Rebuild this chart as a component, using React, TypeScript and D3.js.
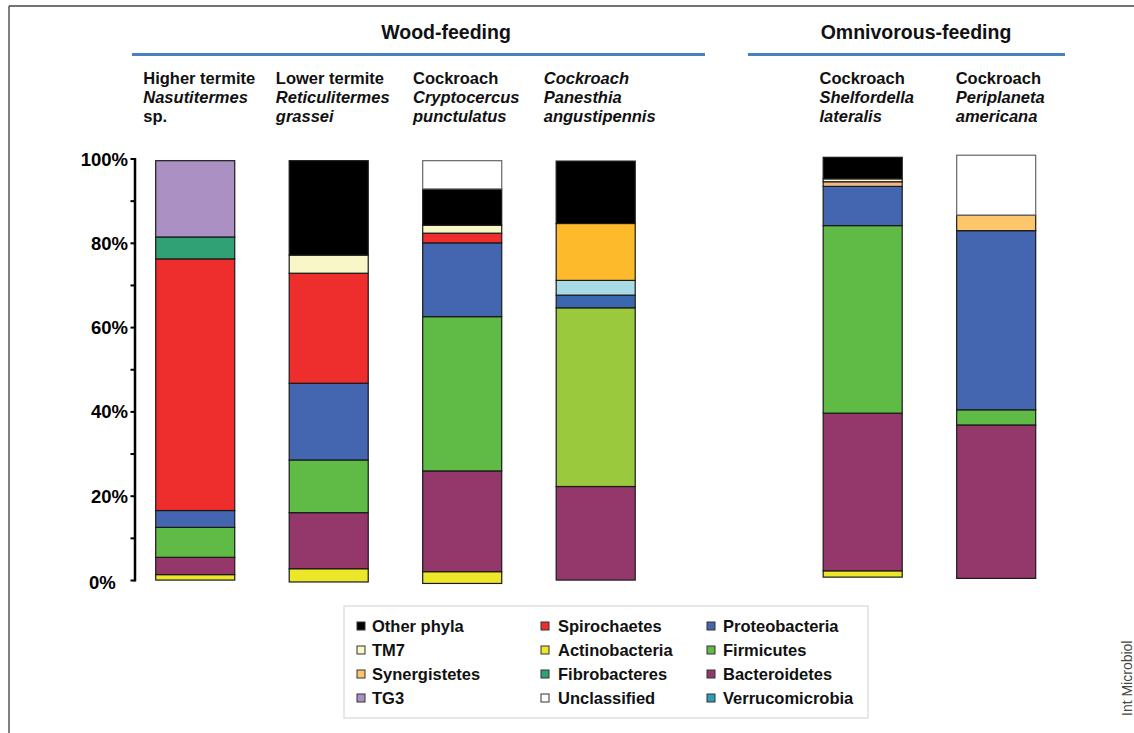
import React from 'react';
import * as d3 from 'd3';

// ---------- data ----------
const species = ['Nasutitermes', 'Reticulitermes', 'Cryptocercus', 'Panesthia', 'Shelfordella', 'Periplaneta'];
const woodSpecies = ['Nasutitermes', 'Reticulitermes', 'Cryptocercus', 'Panesthia'];
const omniSpecies = ['Shelfordella', 'Periplaneta'];
const groupTitles = ['Wood-feeding', 'Omnivorous-feeding'];

// [text, italic]
const speciesLabels: [string, boolean][][] = [
  [['Higher termite', false], ['Nasutitermes', true], ['sp.', false]],
  [['Lower termite', false], ['Reticulitermes', true], ['grassei', true]],
  [['Cockroach', false], ['Cryptocercus', true], ['punctulatus', true]],
  [['Cockroach', true], ['Panesthia', true], ['angustipennis', true]],
  [['Cockroach', false], ['Shelfordella', true], ['lateralis', true]],
  [['Cockroach', false], ['Periplaneta', true], ['americana', true]],
];

// stacking order, bottom to top
const phyla = [
  'Actinobacteria', 'Bacteroidetes', 'Firmicutes', 'Proteobacteria', 'Verrucomicrobia',
  'Spirochaetes', 'Synergistetes', 'TM7', 'Fibrobacteres', 'TG3', 'Other phyla', 'Unclassified',
];

// bar start (%) as drawn in the figure
const baselines = [0.1, -0.35, -0.7, 0.1, 0.8, 0.5];
const actinobacteria = [1.3, 3.15, 2.8, 0, 1.5, 0];
const bacteroidetes = [4.1, 13.3, 23.9, 22.2, 37.4, 36.4];
const firmicutes = [7.1, 12.5, 36.6, 42.4, 44.5, 3.6];
const proteobacteria = [4.0, 18.2, 17.5, 3.0, 9.3, 42.5];
const verrucomicrobia = [0, 0, 0, 3.5, 0, 0];
const spirochaetes = [59.7, 26.1, 2.3, 0, 0, 0];
const synergistetes = [0, 0, 0, 13.5, 1.1, 3.7];
const tm7 = [0, 4.3, 1.9, 0, 0.7, 0];
const fibrobacteres = [5.2, 0, 0, 0, 0, 0];
const tg3 = [18.1, 0, 0, 0, 0, 0];
const otherPhyla = [0, 22.4, 8.6, 14.8, 5.1, 0];
const unclassified = [0, 0, 6.7, 0, 0, 14.2];

const seriesValues: Record<string, number[]> = {
  Actinobacteria: actinobacteria,
  Bacteroidetes: bacteroidetes,
  Firmicutes: firmicutes,
  Proteobacteria: proteobacteria,
  Verrucomicrobia: verrucomicrobia,
  Spirochaetes: spirochaetes,
  Synergistetes: synergistetes,
  TM7: tm7,
  Fibrobacteres: fibrobacteres,
  TG3: tg3,
  'Other phyla': otherPhyla,
  Unclassified: unclassified,
};

const yTicks = [0, 20, 40, 60, 80, 100];
const yMinorTicks = [10, 30, 50, 70, 90];

const legendColumns = [
  ['Other phyla', 'TM7', 'Synergistetes', 'TG3'],
  ['Spirochaetes', 'Actinobacteria', 'Fibrobacteres', 'Unclassified'],
  ['Proteobacteria', 'Firmicutes', 'Bacteroidetes', 'Verrucomicrobia'],
];

const sourceNote = 'Int Microbiol';

// ---------- styles ----------
const colors: Record<string, string> = {
  'Other phyla': '#000000',
  TM7: '#f9f6c8',
  Synergistetes: '#fec66b',
  TG3: '#ab90c4',
  Spirochaetes: '#ee2d2d',
  Actinobacteria: '#ede72a',
  Fibrobacteres: '#30a174',
  Unclassified: '#ffffff',
  Proteobacteria: '#4466b0',
  Firmicutes: '#5fbb46',
  Bacteroidetes: '#94386c',
  Verrucomicrobia: '#2a9fb6',
};
const colorOverrides: Record<string, Record<string, string>> = {
  Panesthia: { Synergistetes: '#fdbb2c', Verrucomicrobia: '#a8dbe6', Proteobacteria: '#3a68b0', Firmicutes: '#9bc93d' },
  Shelfordella: { Synergistetes: '#f6b985' },
};

const FONT = '"Liberation Sans", Arial, Helvetica, sans-serif';
const W = 1134;
const H = 733;

let measureCtx: CanvasRenderingContext2D | null = null;
function measure(text: string, italic: boolean, size: number): number {
  if (!measureCtx) {
    const c = document.createElement('canvas');
    measureCtx = c.getContext('2d');
  }
  if (!measureCtx) return text.length * size * 0.6;
  measureCtx.font = `${italic ? 'italic ' : ''}bold ${size}px "Liberation Sans", Arial, sans-serif`;
  return measureCtx.measureText(text).width;
}

export default function App() {
  const y = d3.scaleLinear().domain([0, 100]).range([580.5, 159]);
  const x = d3
    .scaleBand<string>()
    .domain([...woodSpecies, 'gap', ...omniSpecies])
    .range([155.7, 1035.7])
    .paddingInner(0.408)
    .paddingOuter(0);
  const bw = x.bandwidth();

  const rows = species.map((s, i) => {
    const r: Record<string, number | string> = { species: s };
    phyla.forEach((p) => (r[p] = seriesValues[p][i]));
    return r;
  });
  const stacked = d3.stack<Record<string, number | string>>().keys(phyla)(rows as any);

  const labelSize = 16.5;

  return (
    <svg
      width={W}
      height={H}
      viewBox={`0 0 ${W} ${H}`}
      style={{ position: 'absolute', left: 0, top: 0, background: '#fff', fontFamily: FONT }}
    >
      {/* frame */}
      <line x1={9} y1={6} x2={W} y2={6} stroke="#444" strokeWidth={1.5} />
      <line x1={9} y1={6} x2={9} y2={H} stroke="#555" strokeWidth={1.5} />

      {/* group headers */}
      <text x={446} y={39} textAnchor="middle" fontSize={19.5} fontWeight="bold" fill="#111">
        {groupTitles[0]}
      </text>
      <line x1={132} y1={54.5} x2={705} y2={54.5} stroke="#4a7fc1" strokeWidth={3} />
      <text x={916} y={39} textAnchor="middle" fontSize={19.5} fontWeight="bold" fill="#111">
        {groupTitles[1]}
      </text>
      <line x1={748} y1={54.5} x2={1065} y2={54.5} stroke="#4a7fc1" strokeWidth={3} />

      {/* species labels */}
      {species.map((s, i) => {
        const lines = speciesLabels[i];
        const wmax = d3.max(lines, (l) => measure(l[0], l[1], labelSize)) || 0;
        const cx = (x(s) || 0) + bw / 2;
        const lx = cx - wmax / 2 + 4;
        return (
          <text key={s} fontSize={labelSize} fontWeight="bold" fill="#111">
            {lines.map((l, j) => (
              <tspan key={j} x={lx} y={84 + j * 19} fontStyle={l[1] ? 'italic' : 'normal'}>
                {l[0]}
              </tspan>
            ))}
          </text>
        );
      })}

      {/* y axis */}
      <line x1={135} y1={y(100) - 1} x2={135} y2={y(0) + 1} stroke="#000" strokeWidth={2.5} />
      {[...yTicks, ...yMinorTicks].map((t) => (
        <line key={'t' + t} x1={130.5} x2={135} y1={y(t)} y2={y(t)} stroke="#000" strokeWidth={2} />
      ))}
      {yTicks.map((t) => (
        <text
          key={'l' + t}
          x={t === 0 ? 89 : 128}
          y={y(t) + (t === 0 ? 8.5 : 6.5)}
          textAnchor={t === 0 ? 'start' : 'end'}
          fontSize={18.5}
          fontWeight="bold"
          fill="#000"
        >
          {`${t}%`}
        </text>
      ))}

      {/* bars */}
      {stacked.map((layer) => (
        <g key={layer.key}>
          {layer.map((d, i) => {
            const v = d[1] - d[0];
            if (v <= 0) return null;
            const s = species[i];
            const b = baselines[i];
            const fill = (colorOverrides[s] && colorOverrides[s][layer.key]) || colors[layer.key];
            const y0 = y(d[0] + b);
            const y1 = y(d[1] + b);
            return (
              <rect
                key={s}
                x={x(s)}
                y={y1}
                width={bw}
                height={y0 - y1}
                fill={fill}
                stroke={layer.key === 'Unclassified' ? '#666' : '#1a1a1a'}
                strokeWidth={1.2}
              />
            );
          })}
        </g>
      ))}

      {/* legend */}
      <rect x={344} y={606} width={524} height={112} fill="#fff" stroke="#d8d8d8" strokeWidth={1.2} />
      {legendColumns.map((col, ci) =>
        col.map((name, ri) => {
          const sx = [357, 541, 707][ci];
          const tx = [372, 558, 723][ci];
          const by = 632 + ri * 24;
          return (
            <g key={name}>
              <rect x={sx} y={by - 10} width={8} height={8} fill={colors[name]} stroke="#333" strokeWidth={1} />
              <text x={tx} y={by} fontSize={16.5} fontWeight="bold" fill="#111">
                {name}
              </text>
            </g>
          );
        })
      )}

      {/* source note */}
      <text transform="translate(1132,716) rotate(-90)" fontSize={14} fill="#444">
        {sourceNote}
      </text>
    </svg>
  );
}
